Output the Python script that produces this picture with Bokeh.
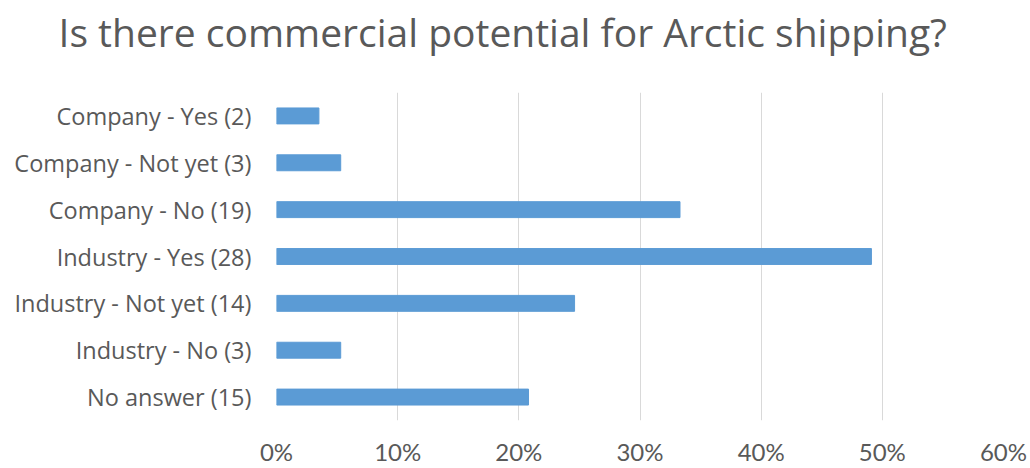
from bokeh.plotting import figure
from bokeh.models import FactorRange, NumeralTickFormatter, FixedTicker, Range1d, Title
from bokeh.embed import file_html
from bokeh.resources import INLINE

title_text = "Is there commercial potential for Arctic shipping?"
categories = ["Company - Yes (2)", "Company - Not yet (3)", "Company - No (19)",
              "Industry - Yes (28)", "Industry - Not yet (14)", "Industry - No (3)",
              "No answer (15)"]
shares = [0.035, 0.053, 0.333, 0.491, 0.246, 0.053, 0.208]
ticks = [0, 0.1, 0.2, 0.3, 0.4, 0.5, 0.6]

FONT = "Open Sans"
GRAY = "#595959"

W, H = 1030, 468
TOP, BOTTOM, LEFT, RIGHT = 92, 45, 276, 27

p = figure(width=W, height=H, output_backend="svg", toolbar_location=None,
           y_range=FactorRange(*list(reversed(categories)), range_padding=0),
           x_range=Range1d(0, 0.6),
           min_border_left=LEFT, min_border_right=RIGHT, min_border_top=TOP, min_border_bottom=BOTTOM)

p.hbar(y=categories, right=shares, left=0, height=0.34, color="#5B9BD5")

# spacer between title and frame
p.add_layout(Title(text=" ", text_font_size="1px", standoff=31), "above")

p.title.text = title_text
p.title.align = "left"
p.title.offset = -218
p.title.text_font = FONT
p.title.text_font_size = "39px"
p.title.text_font_style = "normal"
p.title.text_color = GRAY
p.title.standoff = 2

p.outline_line_color = None
p.ygrid.grid_line_color = None
p.xgrid.grid_line_color = "#D9D9D9"
p.xgrid.grid_line_width = 1

p.xaxis.ticker = FixedTicker(ticks=ticks)
p.xaxis.formatter = NumeralTickFormatter(format="0%")
for ax in (p.xaxis, p.yaxis):
    ax.axis_line_color = None
    ax.major_tick_line_color = None
    ax.minor_tick_line_color = None
    ax.major_label_text_color = GRAY
p.xaxis.major_tick_out = 0
p.xaxis.minor_tick_out = 0
p.xaxis.major_label_text_font = "Lato"
p.xaxis.major_label_text_font_size = "24px"
p.xaxis.major_label_standoff = 16
p.yaxis.major_label_text_font = FONT
p.yaxis.major_label_text_font_size = "23.5px"
p.yaxis.major_label_standoff = 19

open("out.html", "w").write(file_html(p, INLINE))
